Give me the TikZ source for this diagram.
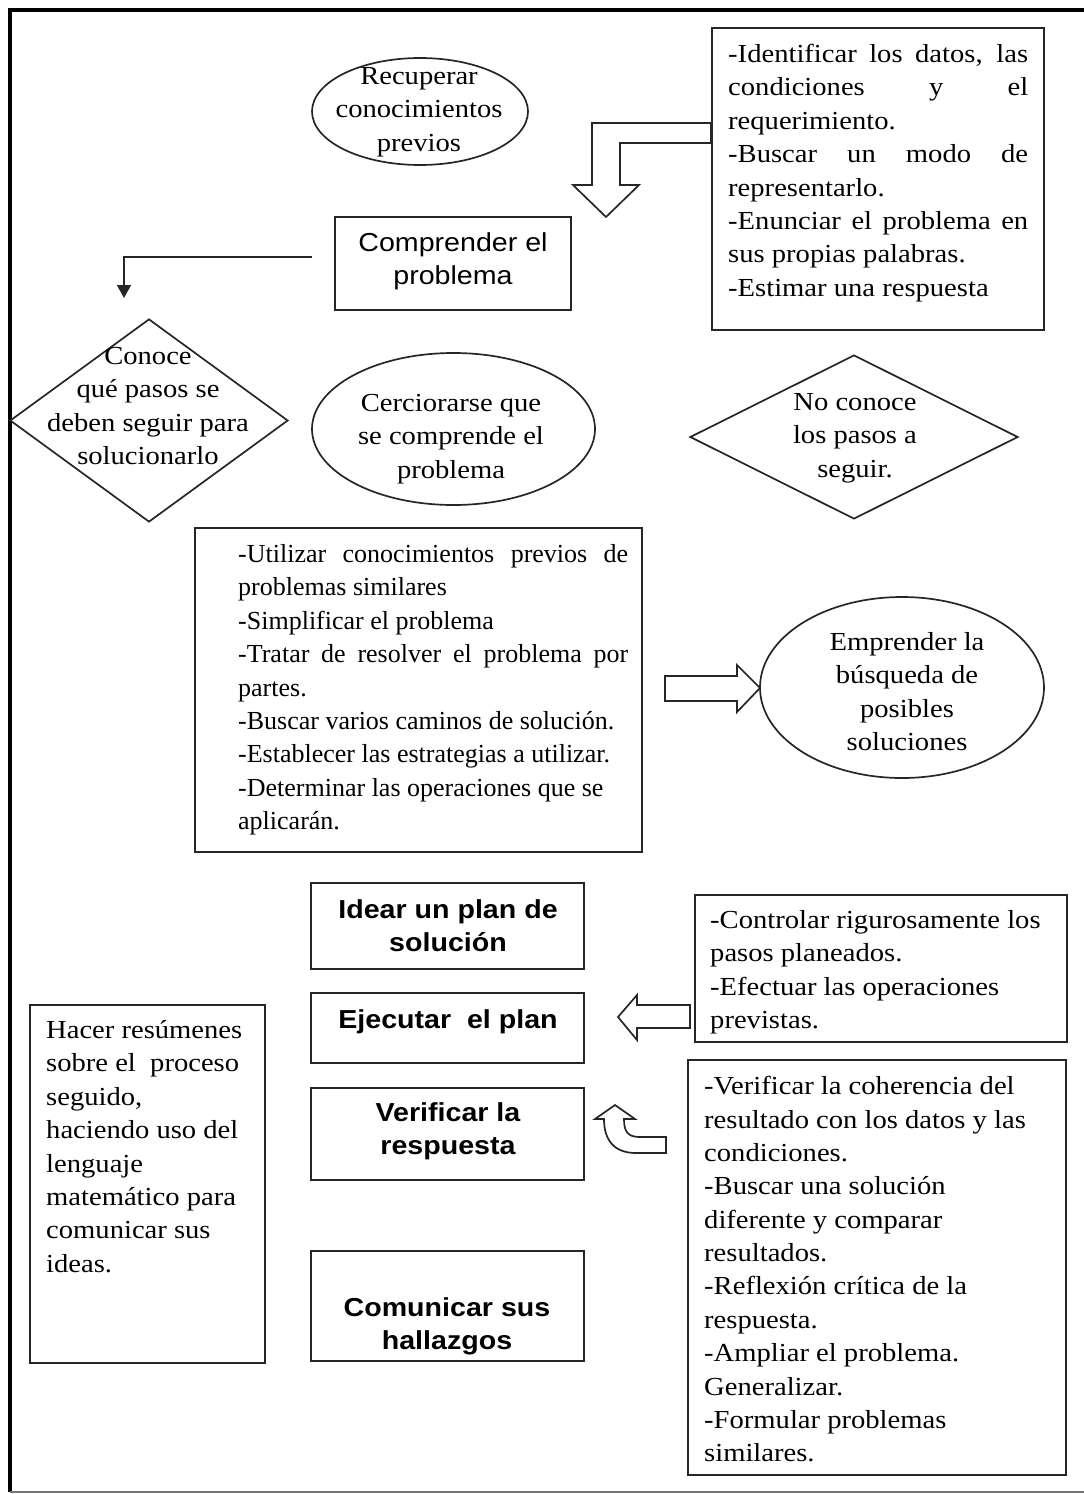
\documentclass[tikz,border=0pt]{standalone}
\usepackage{fontspec}
\setmainfont[FakeStretch=1.1]{Liberation Serif}
\setsansfont[FakeStretch=1.1]{Liberation Sans}
\newfontfamily\narrowserif{Liberation Serif}
\usetikzlibrary{shapes.geometric,arrows.meta}

\newcommand\serifsize{\fontsize{26}{33.4}\selectfont}
\newcommand\serifsmall{\narrowserif\fontsize{26}{33.4}\selectfont}
\newcommand\sanssize{\sffamily\fontsize{26}{33.4}\selectfont}
\newcommand\fullline[2]{\makebox[#1][s]{#2}}

\begin{document}
\begin{tikzpicture}[x=1pt,y=-1pt,
  frame/.style={draw=black!85,line width=1.7pt},
  boxshape/.style={frame,rectangle,inner sep=0pt},
  oval/.style={frame,ellipse,inner sep=0pt},
  rhomb/.style={frame,diamond,inner sep=0pt},
  txt/.style={inner sep=0pt,yshift=-2pt},
  ltext/.style={txt,font=\serifsize,align=left,anchor=north west},
  ctext/.style={txt,font=\serifsize,align=center,anchor=north},
  stext/.style={txt,font=\sanssize,align=center,anchor=north},
  btext/.style={txt,font=\sanssize\bfseries,align=center,anchor=north},
  blockarrow/.style={draw=black!85,line width=1.7pt,fill=white,line join=miter},
]
\useasboundingbox (0,0) rectangle (1084,1494);

% page frame
\draw[line width=4pt] (8,10) -- (1084,10);
\draw[line width=4pt] (9.5,8) -- (9.5,1492);
\draw[black!55,line width=1.5pt] (9.5,1492) -- (1084,1492);

% --- first step ---
\node[oval,minimum width=216pt,minimum height=107pt] (recuperar) at (420,111.5) {};
\node[ctext] (recuperarT) at (419,59) {\strut Recuperar\\\strut conocimientos\\\strut previos};

\node[boxshape,minimum width=332pt,minimum height=302pt] (datos) at (878,179) {};
\node[ltext] (datosT) at (728,37) {%
\strut\fullline{300pt}{-Identificar los datos, las}\\
\strut\fullline{300pt}{condiciones y el}\\
\strut requerimiento.\\
\strut\fullline{300pt}{-Buscar un modo de}\\
\strut representarlo.\\
\strut\fullline{300pt}{-Enunciar el problema en}\\
\strut sus propias palabras.\\
\strut -Estimar una respuesta};

\draw[blockarrow] (711,123) -- (592,123) -- (592,185) -- (573,185) -- (606,217)
  -- (639,185) -- (620,185) -- (620,143) -- (711,143) -- cycle;

\node[boxshape,minimum width=236pt,minimum height=93pt] (comprender) at (453,263.5) {};
\node[stext] (comprenderT) at (453,226) {\strut Comprender el\\\strut problema};

\coordinate (linkstart) at (312,257);
\coordinate (linkend) at (124,298);
\draw[black!85,line width=1.6pt,-{Triangle[width=14pt,length=13pt]}] (linkstart) -| (linkend);

% --- decisions ---
\node[rhomb,minimum width=278pt,minimum height=203pt] (conoce) at (149,420.5) {};
\node[ctext] (conoceT) at (148,339) {\strut Conoce\\\strut qué pasos se\\\strut deben seguir para\\\strut solucionarlo};

\node[oval,minimum width=283pt,minimum height=152pt] (cerciorarse) at (453.5,429) {};
\node[ctext] (cerciorarseT) at (451,386) {\strut Cerciorarse que\\\strut se comprende el\\\strut problema};

\node[rhomb,minimum width=328pt,minimum height=164pt] (noconoce) at (854,437) {};
\node[ctext] (noconoceT) at (855,385) {\strut No conoce\\\strut los pasos a\\\strut seguir.};

% --- planning ---
\node[boxshape,minimum width=447pt,minimum height=324pt] (estrategias) at (418.5,690) {};
\node[ltext,font=\serifsmall] (estrategiasT) at (238,537) {%
\strut\fullline{390pt}{-Utilizar conocimientos previos de}\\
\strut problemas similares\\
\strut -Simplificar el problema\\
\strut\fullline{390pt}{-Tratar de resolver el problema por}\\
\strut partes.\\
\strut -Buscar varios caminos de solución.\\
\strut -Establecer las estrategias a utilizar.\\
\strut -Determinar las operaciones que se\\
\strut aplicarán.};

\draw[blockarrow] (665,676) -- (737,676) -- (737,665) -- (760,688) -- (737,712)
  -- (737,701) -- (665,701) -- cycle;

\node[oval,minimum width=284pt,minimum height=181pt] (emprender) at (902,687.5) {};
\node[ctext] (emprenderT) at (907,625) {\strut Emprender la\\\strut búsqueda de\\\strut posibles\\\strut soluciones};

% --- main steps ---
\node[boxshape,minimum width=273pt,minimum height=86pt] (idear) at (447.5,926) {};
\node[btext] (idearT) at (448,893) {\strut Idear un plan de\\\strut solución};

\node[boxshape,minimum width=273pt,minimum height=70pt] (ejecutar) at (447.5,1028) {};
\node[btext] (ejecutarT) at (448,1003) {\strut Ejecutar\ \ el plan};

\node[boxshape,minimum width=273pt,minimum height=92pt] (verificar) at (447.5,1134) {};
\node[btext] (verificarT) at (448,1096) {\strut Verificar la\\\strut respuesta};

\node[boxshape,minimum width=273pt,minimum height=110pt] (comunicar) at (447.5,1306) {};
\node[btext] (comunicarT) at (447,1291) {\strut Comunicar sus\\\strut hallazgos};

% --- side notes ---
\node[boxshape,minimum width=235pt,minimum height=358pt] (resumen) at (147.5,1184) {};
\node[ltext] (resumenT) at (46,1013) {%
\strut Hacer resúmenes\\
\strut sobre el\ \ proceso\\
\strut seguido,\\
\strut haciendo uso del\\
\strut lenguaje\\
\strut matemático para\\
\strut comunicar sus\\
\strut ideas.};

\node[boxshape,minimum width=372pt,minimum height=147pt] (controlar) at (881,968.5) {};
\node[ltext] (controlarT) at (710,903) {%
\strut -Controlar rigurosamente los\\
\strut pasos planeados.\\
\strut -Efectuar las operaciones\\
\strut previstas.};

\draw[blockarrow] (690,1005) -- (637,1005) -- (637,995) -- (618,1017) -- (637,1040)
  -- (637,1028) -- (690,1028) -- cycle;

\node[boxshape,minimum width=378pt,minimum height=415pt] (coherencia) at (877,1267.5) {};
\node[ltext] (coherenciaT) at (704,1069) {%
\strut -Verificar la coherencia del\\
\strut resultado con los datos y las\\
\strut condiciones.\\
\strut -Buscar una solución\\
\strut diferente y comparar\\
\strut resultados.\\
\strut -Reflexión crítica de la\\
\strut respuesta.\\
\strut -Ampliar el problema.\\
\strut Generalizar.\\
\strut -Formular problemas\\
\strut similares.};

\draw[blockarrow] (615,1105) -- (635,1119) -- (624,1119)
  .. controls (624,1132) and (628,1137) .. (640,1137) -- (666,1137) -- (666,1153)
  -- (636,1153) .. controls (614,1153) and (604,1140) .. (604,1119) -- (595,1119) -- cycle;

\end{tikzpicture}
\end{document}
